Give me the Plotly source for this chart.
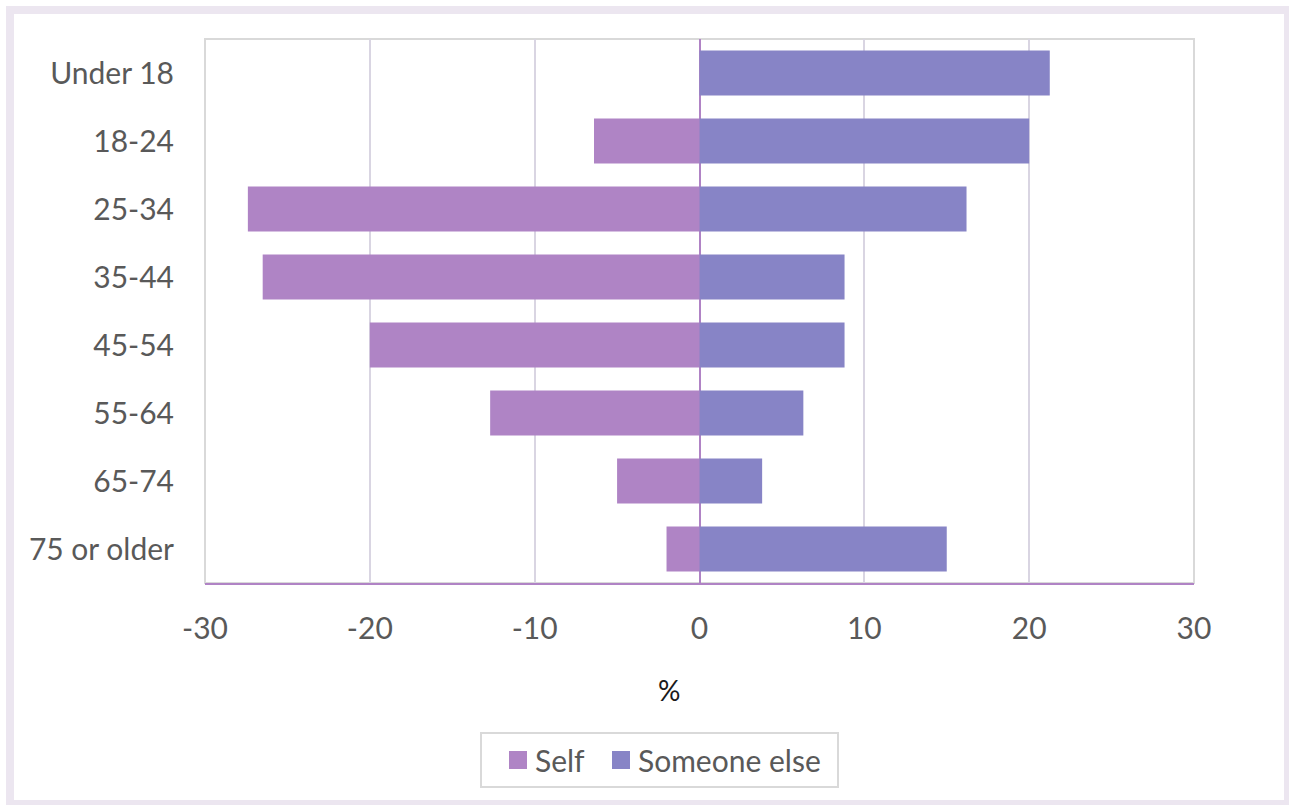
import plotly.graph_objects as go

categories = ["Under 18", "18-24", "25-34", "35-44", "45-54", "55-64", "65-74", "75 or older"]
self_vals = [0, -6.4, -27.4, -26.5, -20.0, -12.7, -5.0, -2.0]
someone_vals = [21.25, 20.0, 16.2, 8.8, 8.8, 6.3, 3.8, 15.0]
x_ticks = [-30, -20, -10, 0, 10, 20, 30]
series_names = ["Self", "Someone else"]
colors = ["#AF84C5", "#8784C6"]

W, H = 1289, 805
L, R, T, B = 205, 1194, 39, 583

def px(x):
    return (x - L) / (R - L)

def py(y):
    return (B - y) / (B - T)

FONT = "Lato"
TXT = "#595959"
FS = 30

fig = go.Figure()
fig.add_trace(go.Bar(y=categories, x=self_vals, orientation="h", name=series_names[0],
                     marker=dict(color=colors[0], line=dict(width=0))))
fig.add_trace(go.Bar(y=categories, x=someone_vals, orientation="h", name=series_names[1],
                     marker=dict(color=colors[1], line=dict(width=0))))

shapes = [
    # outer frame
    dict(type="rect", xref="paper", yref="paper", x0=px(10), x1=px(1288), y0=py(10), y1=py(804),
         line=dict(color="#ECE6F0", width=8), layer="below"),
    # plot border
    dict(type="rect", xref="paper", yref="paper", x0=0, x1=1, y0=0, y1=1,
         line=dict(color="#D9D9D9", width=2), layer="below"),
    # legend box
    dict(type="rect", xref="paper", yref="paper", x0=px(481), x1=px(838), y0=py(733), y1=py(787),
         line=dict(color="#D9D9D9", width=2)),
    dict(type="rect", xref="paper", yref="paper", x0=px(509), x1=px(527), y0=py(751), y1=py(769),
         line=dict(width=0), fillcolor=colors[0]),
    dict(type="rect", xref="paper", yref="paper", x0=px(612), x1=px(630), y0=py(751), y1=py(769),
         line=dict(width=0), fillcolor=colors[1]),
]

annotations = [
    dict(text="%", xref="paper", yref="paper", x=px(669), y=py(690), showarrow=False,
         font=dict(family=FONT, size=28, color="#1a1a1a"), xanchor="center", yanchor="middle"),
    dict(text=series_names[0], xref="paper", yref="paper", x=px(533), y=py(760), showarrow=False,
         font=dict(family=FONT, size=FS, color=TXT), xanchor="left", yanchor="middle"),
    dict(text=series_names[1], xref="paper", yref="paper", x=px(636), y=py(760), showarrow=False,
         font=dict(family=FONT, size=FS, color=TXT), xanchor="left", yanchor="middle"),
]

fig.update_layout(
    width=W, height=H,
    margin=dict(l=L, r=W - R, t=T, b=H - B, pad=0),
    paper_bgcolor="white", plot_bgcolor="white",
    barmode="relative", bargap=0.34,
    showlegend=False,
    shapes=shapes, annotations=annotations,
    font=dict(family=FONT, size=FS, color=TXT),
)
fig.update_xaxes(
    range=[-30, 30], tickvals=x_ticks, ticktext=[str(v) for v in x_ticks],
    showgrid=True, gridcolor="#D9D5E2", gridwidth=2,
    zeroline=True, zerolinecolor="#B083C5", zerolinewidth=2,
    showline=True, linecolor="#B083C5", linewidth=2,
    ticks="", ticklabelstandoff=18,
    tickfont=dict(family=FONT, size=FS, color=TXT),
)
fig.update_yaxes(
    categoryorder="array", categoryarray=categories, autorange="reversed",
    showgrid=False, zeroline=False, showline=False, ticks="",
    ticklabelstandoff=30,
    tickfont=dict(family=FONT, size=FS, color=TXT),
)

fig.write_html("out.html")
